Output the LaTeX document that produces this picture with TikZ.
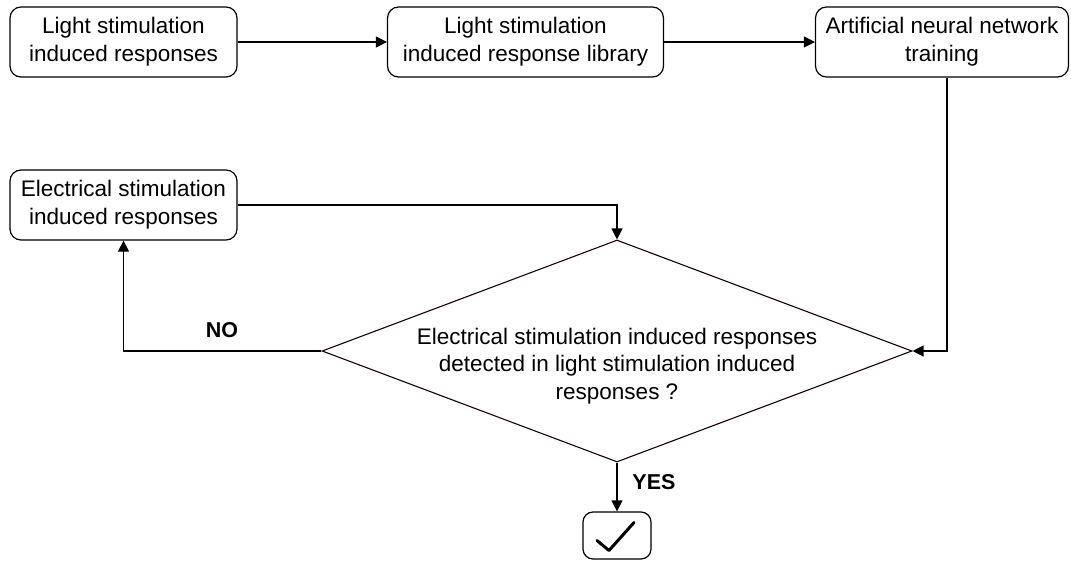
\documentclass[tikz,border=0pt]{standalone}
\usepackage{fontspec}
\setmainfont{Liberation Sans}
\usetikzlibrary{arrows.meta,shapes.geometric}
\begin{document}
\begin{tikzpicture}[x=1pt,y=-1pt,
  box/.style={draw,rounded corners=11pt,line width=1.2pt,inner sep=0pt,align=center,
    font=\fontsize{22.5}{28}\selectfont},
  arr/.style={line width=1.2pt,-{Triangle[length=11pt,width=11pt]}},
  lab/.style={font=\fontsize{21.5}{24}\selectfont\bfseries}]
\useasboundingbox (0,0) rectangle (1071,560);
\node[box,minimum width=227pt,minimum height=70pt] (b1) at (123.5,42) {Light stimulation\\induced responses};
\node[box,minimum width=276pt,minimum height=70pt] (b2) at (525.5,42) {Light stimulation\\induced response library};
\node[box,minimum width=253pt,minimum height=70pt] (b3) at (942,42) {Artificial neural network\\training};
\node[box,minimum width=227pt,minimum height=70pt] (b4) at (123.5,205) {Electrical stimulation\\induced responses};
\node[diamond,draw=black!85!red!60!black,line width=1.1pt,minimum width=590pt,minimum height=222pt,inner sep=0pt] (d) at (617,351) {};
\node[align=center,font=\fontsize{22.5}{27.5}\selectfont] (dt) at (617,366) {Electrical stimulation induced responses\\detected in light stimulation induced\\responses ?};
\node[draw,rounded corners=10pt,line width=1.2pt,minimum width=68pt,minimum height=47pt,inner sep=0pt] (ck) at (617,535.5) {};
\draw[line width=3pt,line cap=round,line join=round] ([shift={(-20,5)}]ck.center) -- ([shift={(-8,15)}]ck.center) -- ([shift={(17,-13)}]ck.center);
\draw[arr] (b1.east) -- (b2.west);
\draw[arr] (b2.east) -- (b3.west);
\draw[arr] (b3.south -| 947,0) |- (d.east);
\draw[arr] (b4.east) -| (d.north);
\draw[arr] (d.west) -| (b4.south);
\draw[arr] (d.south) -- (ck.north);
\node[lab] (no) at (222,330) {NO};
\node[lab] (yes) at (654,482) {YES};
\end{tikzpicture}
\end{document}
